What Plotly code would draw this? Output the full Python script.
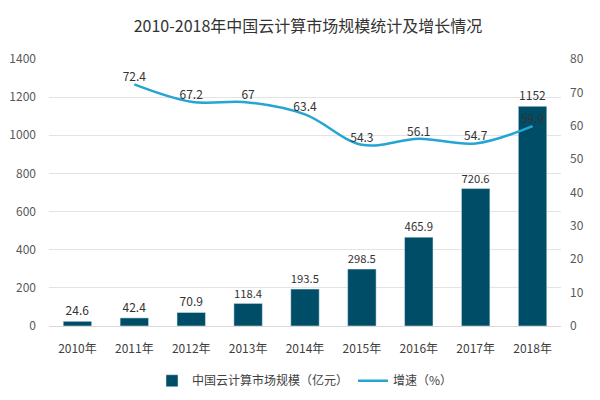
import plotly.graph_objects as go

years = ["2010年", "2011年", "2012年", "2013年", "2014年", "2015年", "2016年", "2017年", "2018年"]
market_size = [24.6, 42.4, 70.9, 118.4, 193.5, 298.5, 465.9, 720.6, 1152]
growth_years = ["2011年", "2012年", "2013年", "2014年", "2015年", "2016年", "2017年", "2018年"]
growth_rate = [72.4, 67.2, 67, 63.4, 54.3, 56.1, 54.7, 59.9]

font_family = "Noto Sans CJK SC, Noto Sans, sans-serif"

fig = go.Figure()
fig.add_trace(go.Bar(
    x=years, y=market_size, name="中国云计算市场规模（亿元）",
    marker_color="#004d68", width=0.5,
    text=[f"{v:g}" for v in market_size], textposition="outside",
    textfont=dict(size=12, color="#333333"), cliponaxis=False,
))
fig.add_trace(go.Scatter(
    x=growth_years, y=growth_rate, name="增速（%）", yaxis="y2",
    mode="lines+text", line=dict(color="#25a5d4", width=2.5, shape="spline", smoothing=1.0),
    text=[f"{v:g}" for v in growth_rate], textposition="top center",
    textfont=dict(size=12, color="#333333"), cliponaxis=False,
))

fig.update_layout(
    width=600, height=400,
    margin=dict(l=41, r=47, t=51, b=82, autoexpand=False),
    paper_bgcolor="white", plot_bgcolor="white",
    font=dict(family=font_family, size=12, color="#595959"),
    title=dict(text="2010-2018年中国云计算市场规模统计及增长情况", x=0.5, xanchor="center",
               y=0.955, yanchor="middle", font=dict(size=16, color="#333333")),
    xaxis=dict(showgrid=False, showline=True, linecolor="#d9d9d9", tickfont=dict(size=12, color="#404040"),
               ticklabelstandoff=12),
    yaxis=dict(range=[0, 1400], dtick=200, showgrid=True, gridcolor="#e3e3e3", zeroline=False,
               tickfont=dict(size=12, color="#595959"), ticks="", ticklabelstandoff=12),
    yaxis2=dict(range=[0, 80], dtick=10, overlaying="y", side="right", showgrid=False, zeroline=False,
                tickfont=dict(size=12, color="#595959"), ticklabelstandoff=8),
    legend=dict(orientation="h", x=0.5, xanchor="center", y=-0.205, yanchor="middle",
                font=dict(size=12, color="#404040")),
    bargap=0.5,
    showlegend=True,
)

fig.write_html("out.html")
